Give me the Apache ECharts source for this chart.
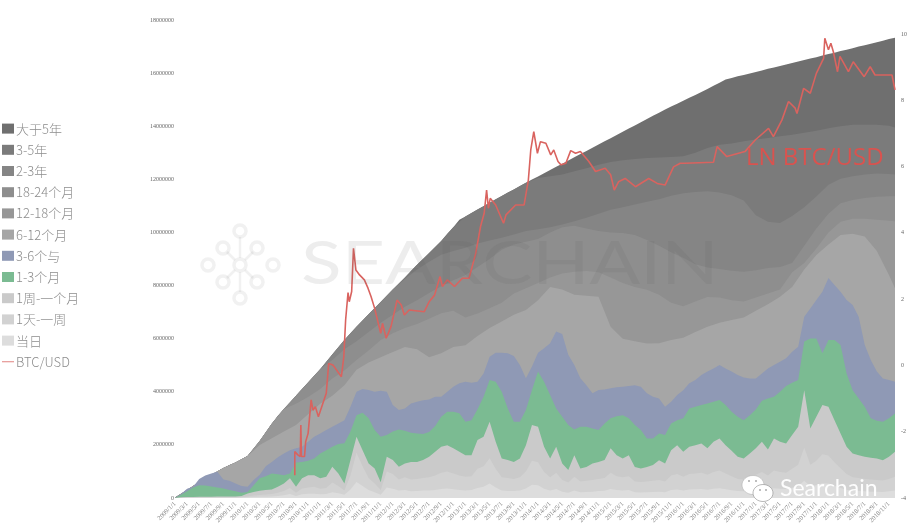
<!DOCTYPE html>
<html><head><meta charset="utf-8">
<style>html,body{margin:0;padding:0;background:#fff}#c{width:910px;height:529px}</style>
<script src="https://cdn.jsdelivr.net/npm/echarts@6/dist/echarts.min.js"></script>
</head><body><div id="c"></div>
<script>
// Month index 0 = 2009/1. Band values are cumulative heights, in units of 10,000 BTC.
const tickLabels=['2009/1/1','2009/3/1','2009/5/1','2009/7/1','2009/9/1','2009/11/1','2010/1/1','2010/3/1','2010/5/1','2010/7/1','2010/9/1','2010/11/1','2011/1/1','2011/3/1','2011/5/1','2011/7/1','2011/9/1','2011/11/1','2012/1/1','2012/3/1','2012/5/1','2012/7/1','2012/9/1','2012/11/1','2013/1/1','2013/3/1','2013/5/1','2013/7/1','2013/9/1','2013/11/1','2014/1/1','2014/3/1','2014/5/1','2014/7/1','2014/9/1','2014/11/1','2015/1/1','2015/3/1','2015/5/1','2015/7/1','2015/9/1','2015/11/1','2016/1/1','2016/3/1','2016/5/1','2016/7/1','2016/9/1','2016/11/1','2017/1/1','2017/3/1','2017/5/1','2017/7/1','2017/9/1','2017/11/1','2018/1/1','2018/3/1','2018/5/1','2018/7/1','2018/9/1','2018/11/1'];
const leftTicks=[0,2000000,4000000,6000000,8000000,10000000,12000000,14000000,16000000,18000000];
const rightTicks=[-4,-2,0,2,4,6,8,10];
// monthly
const over5y=[2,15,30,45,60,75,88,100,113,124,134,146,158,185,215,247,280,310,335,358,385,410,435,460,485,512,540,568,595,620,645,668,692,715,738,762,785,808,830,855,878,900,923,945,968,995,1020,1048,1060,1073,1086,1099,1112,1125,1137,1150,1162,1175,1187,1199,1211,1223,1235,1247,1259,1271,1283,1295,1307,1319,1331,1343,1355,1367,1379,1391,1403,1415,1427,1439,1451,1463,1474,1485,1496,1507,1518,1529,1540,1552,1564,1576,1582,1588,1593,1599,1604,1610,1616,1621,1627,1632,1638,1644,1649,1655,1660,1666,1672,1677,1683,1688,1694,1700,1705,1711,1716,1722,1728,1733,1739];
// every two months, last point = final month
const y3to5=[2,30,60,88,113,134,158,215,280,335,385,435,485,540,595,645,692,738,785,830,878,923,968,1020,1060,1086,1112,1137,1162,1187,1205,1212,1218,1230,1242,1255,1265,1272,1277,1280,1282,1284,1287,1300,1318,1330,1335,1343,1350,1356,1362,1368,1375,1383,1392,1400,1406,1406,1406,1402,1395];
const y2to3=[2,30,60,88,113,134,158,215,280,335,385,435,485,540,595,645,692,738,785,825,860,890,916,930,942,958,970,980,992,1005,1012,1020,1030,1042,1055,1070,1085,1095,1105,1116,1125,1138,1148,1152,1155,1150,1140,1120,1065,1040,1036,1062,1095,1135,1180,1202,1212,1218,1222,1220,1218];
const m18to24=[2,30,60,88,113,134,158,215,280,335,385,435,485,520,560,590,625,660,690,720,745,772,797,820,840,870,900,935,955,965,975,1000,1020,1025,1015,1005,1000,998,990,972,950,925,905,880,868,862,856,852,858,866,870,885,950,1015,1070,1110,1122,1130,1134,1136,1136];
const m12to18=[2,30,60,88,113,134,158,215,280,335,355,380,410,450,480,520,555,595,620,640,655,675,696,705,680,695,715,735,770,790,810,830,845,852,855,850,830,810,795,784,765,735,722,740,757,755,745,740,755,770,785,850,885,940,1000,1040,1052,1052,1048,1044,1042];
const m6to12=[0,30,60,88,113,134,158,200,225,250,275,315,355,385,425,483,510,530,550,569,560,530,545,569,575,610,640,665,690,708,745,795,785,765,762,758,645,600,590,582,583,595,603,625,645,660,670,680,705,730,758,795,860,915,955,990,995,985,930,840,790];
// monthly
const m3to6=[0,15,35,42,72,85,92,99,70,65,55,45,42,68,88,120,136,153,168,180,187,193,212,231,243,256,268,281,293,344,400,410,407,400,404,400,350,331,337,356,362,368,371,381,381,400,419,432,438,434,438,469,532,547,547,545,535,501,451,495,547,564,583,627,618,539,501,451,425,394,407,409,413,417,419,422,425,419,394,381,375,344,362,388,406,432,444,463,476,488,501,488,476,463,454,450,450,469,488,501,513,526,551,570,683,714,746,777,828,802,777,746,727,683,576,520,476,450,444,438];
const m1to3=[0,12,25,40,48,47,43,40,36,30,25,20,23,48,74,82,92,89,86,92,134,136,140,149,168,180,193,203,206,250,312,321,300,256,231,237,250,258,253,246,243,241,249,271,306,325,325,319,287,293,334,381,444,438,400,337,287,287,331,407,476,438,388,337,306,275,258,268,268,262,256,281,300,308,312,300,275,256,224,224,243,237,281,293,300,337,344,350,356,362,369,350,325,306,293,312,333,366,375,381,400,422,434,444,589,601,601,545,595,595,576,469,406,375,344,300,291,287,300,318];
const w1toM1=[0,3,4,4,5,5,5,6,6,6,6,8,17,23,27,30,32,42,55,74,42,74,86,86,74,80,118,92,55,143,231,180,130,111,59,155,143,118,130,136,136,143,155,174,193,199,187,174,161,161,218,231,287,212,149,143,136,149,199,275,268,193,149,193,130,105,161,111,117,130,136,143,187,161,149,161,117,111,117,124,142,130,180,199,174,193,199,205,187,212,224,199,178,155,149,168,187,212,183,224,212,205,237,268,406,262,306,350,344,293,243,193,168,161,155,152,149,142,155,174];
const d1toW1=[0,1,2,2,3,3,3,3,3,3,3,4,6,9,11,13,15,20,26,38,20,36,40,42,35,38,58,45,28,85,170,120,75,55,30,100,90,70,78,70,72,75,78,85,95,100,92,85,80,82,110,120,150,110,78,75,72,78,100,140,135,98,78,95,68,58,80,62,65,68,72,75,95,82,78,82,62,60,62,65,68,62,85,90,80,90,92,95,88,98,104,92,82,72,70,78,88,98,85,104,98,95,110,125,190,125,140,165,160,135,112,90,78,75,72,70,68,66,72,80];
const today=[0,0,1,1,1,1,1,1,1,1,1,2,3,4,5,5,6,8,10,15,8,14,16,16,14,15,22,18,12,32,60,45,30,22,12,40,35,28,30,25,26,28,28,30,34,36,33,30,28,30,38,42,55,40,28,26,26,28,36,50,48,35,28,34,24,20,28,22,23,24,26,27,34,30,28,30,22,21,22,23,24,22,30,32,28,32,33,34,31,35,37,33,29,26,25,28,31,35,30,37,35,34,39,44,65,44,48,56,55,46,38,31,27,26,25,24,24,23,25,28];
// ln(BTC/USD), at fractional month positions
const priceMonth=[19.8,19.8,20.3,20.7,20.8,20.9,21.4,21.6,22,22.5,22.8,23.2,23.7,25,25.4,26.1,27.5,27.9,28.2,28.6,28.8,29.2,29.5,29.9,30.5,31.3,31.9,32.4,33,34,34.3,34.9,35.7,36.7,37.4,37.9,38.7,41.2,42,42.9,43.8,44.2,45,46.2,47.5,48.6,49.7,50.5,51.1,51.5,51.8,52.1,53,54.3,54.7,56.3,57.7,58.4,58.8,59.3,59.9,60.4,61.3,62.1,62.6,63.3,63.8,64.6,65.4,66.2,67,68.4,69.5,71.1,72,72.6,73.3,74.4,76.1,78.3,79.7,81,82.4,83.5,84.3,89,89.6,91.2,94.2,95.9,98.1,98.9,100.3,101.4,102.5,102.8,103.9,105,106,107.2,107.4,108,108.4,108.8,109.5,109.9,111.3,112.1,113.9,114.9,115.7,118.5,119];
const priceLn=[-3.31,-2.6,-2.7,-2.75,-1.8,-2.75,-2.75,-2.3,-2.05,-1.04,-1.35,-1.25,-1.55,-0.84,0.06,0.01,-0.34,0.26,1.37,2.2,1.92,2.23,3.53,2.88,2.73,2.58,2.33,2.08,1.72,0.97,1.27,0.82,1.17,1.97,1.82,1.52,1.67,1.62,1.92,2.12,2.68,2.38,2.58,2.38,2.63,2.63,3.38,4.19,4.59,5.29,4.74,5.04,4.84,4.29,4.54,4.84,4.84,5.59,6.5,7.05,6.4,6.75,6.7,6.35,6.5,6.15,6.05,6.1,6.48,6.4,6.45,6.15,5.85,5.95,5.75,5.29,5.54,5.64,5.39,5.64,5.49,5.44,5.99,6.1,6.1,6.13,6.6,6.3,6.45,6.8,7.15,6.9,7.4,7.96,7.76,7.6,8.36,8.21,8.81,9.26,9.87,9.52,9.72,9.47,8.86,9.32,8.86,9.16,8.71,9.01,8.76,8.76,8.31];

const monthly=a=>a.map((v,i)=>[i,v*10000]);
const bimonthly=a=>a.map((v,i)=>[Math.min(i*2,119),v*10000]);
const bands=[
 ['大于5年',monthly(over5y),'#6f6f6f'],
 ['3-5年',bimonthly(y3to5),'#7b7b7b'],
 ['2-3年',bimonthly(y2to3),'#858585'],
 ['18-24个月',bimonthly(m18to24),'#8e8e8e'],
 ['12-18个月',bimonthly(m12to18),'#979797'],
 ['6-12个月',bimonthly(m6to12),'#a6a6a6'],
 ['3-6个与',monthly(m3to6),'#8f99b5'],
 ['1-3个月',monthly(m1to3),'#7bbb92'],
 ['1周-一个月',monthly(w1toM1),'#cacaca'],
 ['1天-一周',monthly(d1toW1),'#d2d2d2'],
 ['当日',monthly(today),'#dddddd']
];
const series=bands.map(([name,data,color])=>({name,type:'line',data,showSymbol:false,symbol:'none',
  lineStyle:{width:0,color},itemStyle:{color},areaStyle:{color,opacity:1},silent:true,animation:false}));
series.push({name:'BTC/USD',type:'line',yAxisIndex:1,showSymbol:false,symbol:'none',animation:false,z:5,
  data:priceMonth.map((m,i)=>[m,priceLn[i]]),lineStyle:{color:'#d9635f',width:1.6},itemStyle:{color:'#d9635f'}});

const wm='rgba(95,95,95,0.11)', node='rgba(120,120,120,0.1)';
const nodes=[[240,231],[223,248],[257,248],[208,265],[273,265],[223,282],[257,282],[240,298],[240,265]];
const links=[[240,237,240,258],[227,252,235,260],[253,252,245,260],[227,278,235,270],[253,278,245,270],[240,272,240,292]];
const graphic=[
 {type:'text',left:746,top:146,z:50,style:{text:'LN BTC/USD',fill:'#d9534f',font:'24px "Open Sans"'}},
 {type:'text',x:301,y:235,z:40,scaleX:1.25,silent:true,style:{text:'SEARCHAIN',fill:wm,font:'400 60px Lato'}},
 ...nodes.map(([cx,cy])=>({type:'circle',z:40,silent:true,shape:{cx,cy,r:6},style:{fill:'none',stroke:node,lineWidth:3.5}})),
 ...links.map(([x1,y1,x2,y2])=>({type:'line',z:40,silent:true,shape:{x1,y1,x2,y2},style:{stroke:node,lineWidth:2.5}})),
 {type:'ellipse',z:60,silent:true,shape:{cx:753,cy:485,rx:11,ry:9.5},style:{fill:'#fff',stroke:'#aaa',lineWidth:.5}},
 {type:'ellipse',z:61,silent:true,shape:{cx:763,cy:493,rx:10,ry:8.5},style:{fill:'#fff',stroke:'#999',lineWidth:.7}},
 {type:'circle',z:62,silent:true,shape:{cx:749,cy:481,r:1},style:{fill:'#aaa'}},
 {type:'circle',z:62,silent:true,shape:{cx:756,cy:481,r:1},style:{fill:'#aaa'}},
 {type:'circle',z:62,silent:true,shape:{cx:760,cy:490,r:1},style:{fill:'#aaa'}},
 {type:'circle',z:62,silent:true,shape:{cx:766,cy:490,r:1},style:{fill:'#aaa'}},
 {type:'text',x:780,y:477,z:60,silent:true,style:{text:'Searchain',fill:'rgba(255,255,255,.95)',font:'400 23px Lato'}}
];

const chart=echarts.init(document.getElementById('c'),null,{renderer:'canvas'});
const tickFont={fontFamily:'"Liberation Serif"',fontSize:6,color:'#666'};
chart.setOption({
 animation:false,backgroundColor:'#fff',
 grid:{left:175,right:13,top:20,bottom:31,containLabel:false},
 legend:{orient:'vertical',left:2,top:122,padding:0,itemWidth:12,itemHeight:10,itemGap:8,
   textStyle:{fontFamily:'"Noto Sans CJK SC"',fontSize:13,fontWeight:300,color:'#8c8c8c',padding:[0,0,0,-3],lineHeight:13.2},
   data:[...bands.map(b=>({name:b[0],icon:'rect'})),{name:'BTC/USD',icon:'path://M0 0H120V8H0Z'}]},
 xAxis:{type:'value',min:0,max:119,interval:2,splitLine:{show:false},
   axisLine:{show:false},axisTick:{show:false},
   axisLabel:{rotate:45,margin:5,fontFamily:'"Liberation Serif"',fontSize:6.5,color:'#808080',
     formatter:v=>tickLabels[v/2]||''}},
 yAxis:[
  {type:'value',min:leftTicks[0],max:leftTicks[leftTicks.length-1],interval:2000000,splitLine:{show:false},
   axisLine:{show:false},axisTick:{show:false},axisLabel:{...tickFont,margin:1,formatter:v=>String(v)}},
  {type:'value',min:rightTicks[0],max:10.42,interval:2,position:'right',splitLine:{show:false},
   axisLine:{show:false},axisTick:{show:false},
   axisLabel:{...tickFont,margin:6,formatter:v=>rightTicks.includes(v)?String(v):''}}
 ],
 graphic,series
});
</script></body></html>
